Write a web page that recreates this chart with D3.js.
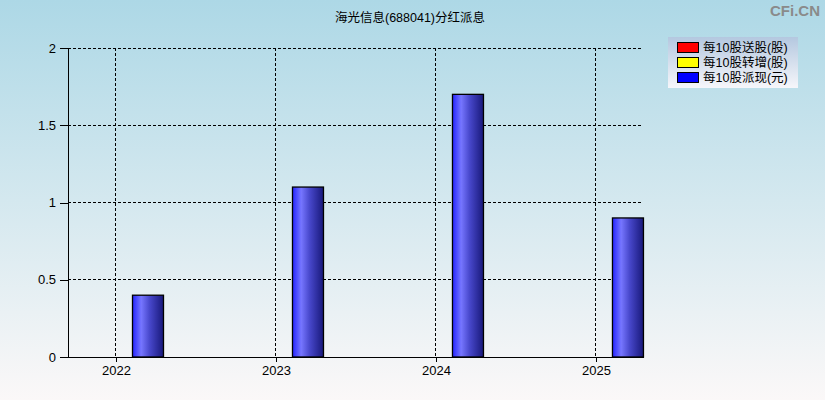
<!DOCTYPE html>
<html>
<head>
<meta charset="utf-8">
<script src="https://cdn.jsdelivr.net/npm/d3@7"></script>
<style>
  body { margin: 0; }
  svg { display: block; font-family: "Liberation Sans", Arial, "Noto Sans CJK SC", sans-serif; }
</style>
</head>
<body>
<svg id="chart" width="825" height="400"></svg>
<script>
// data
const years = [2022, 2023, 2024, 2025];
const cashPer10 = [0.4, 1.1, 1.7, 0.9];
const yTicks = [0, 0.5, 1, 1.5, 2];
const legendLabels = ["每10股送股(股)", "每10股转增(股)", "每10股派现(元)"];
const legendColors = ["#ff0000", "#ffff00", "#0000ff"];
const title = "海光信息(688041)分红派息";

const width = 825, height = 400;
const margin = { top: 48, right: 182, bottom: 43, left: 68 };

const svg = d3.select("#chart");
const defs = svg.append("defs");

const bg = defs.append("linearGradient").attr("id", "bg")
  .attr("x1", 0).attr("y1", 0).attr("x2", 0).attr("y2", 1);
bg.append("stop").attr("offset", "0%").attr("stop-color", "#add8e6");
bg.append("stop").attr("offset", "100%").attr("stop-color", "#fbf8f8");

const lg = defs.append("linearGradient").attr("id", "lg")
  .attr("x1", 0).attr("y1", 0).attr("x2", 0).attr("y2", 1);
lg.append("stop").attr("offset", "0%").attr("stop-color", "#b4c8e0");
lg.append("stop").attr("offset", "100%").attr("stop-color", "#f6f6fa");

const barG = defs.append("linearGradient").attr("id", "barG")
  .attr("x1", 0).attr("y1", 0).attr("x2", 1).attr("y2", 0);
barG.append("stop").attr("offset", "0%").attr("stop-color", "#2424ff");
barG.append("stop").attr("offset", "28%").attr("stop-color", "#7676ff");
barG.append("stop").attr("offset", "55%").attr("stop-color", "#4848cc");
barG.append("stop").attr("offset", "100%").attr("stop-color", "#18187a");

svg.append("rect").attr("width", width).attr("height", height).attr("fill", "url(#bg)");

const x = d3.scaleLinear()
  .domain([2021.7, 2025.294])
  .range([margin.left, width - margin.right]);

const y = d3.scaleLinear()
  .domain([0, 2])
  .range([height - margin.bottom, margin.top]);

// grid
const grid = svg.append("g").attr("stroke", "#000").attr("stroke-dasharray", "3,2").attr("shape-rendering", "crispEdges");
grid.selectAll(".hg").data(yTicks.filter(d => d > 0)).join("line")
  .attr("x1", margin.left).attr("x2", width - margin.right)
  .attr("y1", d => y(d)).attr("y2", d => y(d));
grid.selectAll(".vg").data(years).join("line")
  .attr("x1", d => x(d)).attr("x2", d => x(d))
  .attr("y1", margin.top).attr("y2", height - margin.bottom);

// bars
svg.append("g").selectAll("rect").data(years).join("rect")
  .attr("x", d => x(d) + 16.5)
  .attr("width", 31)
  .attr("y", (d, i) => y(cashPer10[i]))
  .attr("height", (d, i) => y(0) - y(cashPer10[i]))
  .attr("fill", "url(#barG)")
  .attr("stroke", "#000")
  .attr("stroke-width", 1.3);

// axes
const yAxis = g => g
  .attr("transform", `translate(${margin.left},0)`)
  .call(d3.axisLeft(y).tickValues(yTicks).tickFormat(d3.format("")).tickSize(8).tickSizeOuter(0))
  .call(g => g.select(".domain").attr("stroke", "#000").attr("stroke-width", 1.3))
  .call(g => g.selectAll(".tick text").attr("fill", "#000").attr("font-size", 13).attr("dx", "-1"));

const xAxis = g => g
  .attr("transform", `translate(0,${height - margin.bottom})`)
  .call(d3.axisBottom(x).tickValues(years).tickFormat(d3.format("d")).tickSize(5).tickSizeOuter(0))
  .call(g => g.select(".domain").attr("stroke", "#000").attr("stroke-width", 1.3))
  .call(g => g.selectAll(".tick text").attr("fill", "#000").attr("font-size", 13).attr("dy", "0.75em"));

svg.append("g").attr("shape-rendering", "crispEdges").call(yAxis);
svg.append("g").attr("shape-rendering", "crispEdges").call(xAxis);

// title
svg.append("text")
  .attr("x", 410).attr("y", 22)
  .attr("text-anchor", "middle")
  .attr("font-size", 12.5)
  .attr("fill", "#000")
  .text(title);

// watermark
svg.append("text")
  .attr("x", 820).attr("y", 16)
  .attr("text-anchor", "end")
  .attr("font-size", 15)
  .attr("font-weight", "bold")
  .attr("fill", "#8a8a8a")
  .text("CFi.CN");

// legend
const legend = svg.append("g").attr("transform", "translate(668,37)");
legend.append("rect").attr("width", 130).attr("height", 51).attr("fill", "url(#lg)");
const items = legend.selectAll(".item").data(legendLabels).join("g")
  .attr("transform", (d, i) => `translate(0,${5 + i * 15})`);
items.append("rect")
  .attr("x", 9.5).attr("y", 0.5).attr("width", 21).attr("height", 10)
  .attr("fill", (d, i) => legendColors[i])
  .attr("stroke", "#000");
items.append("text")
  .attr("x", 35).attr("y", 10)
  .attr("font-size", 12.5)
  .attr("fill", "#000")
  .text(d => d);
</script>
</body>
</html>
